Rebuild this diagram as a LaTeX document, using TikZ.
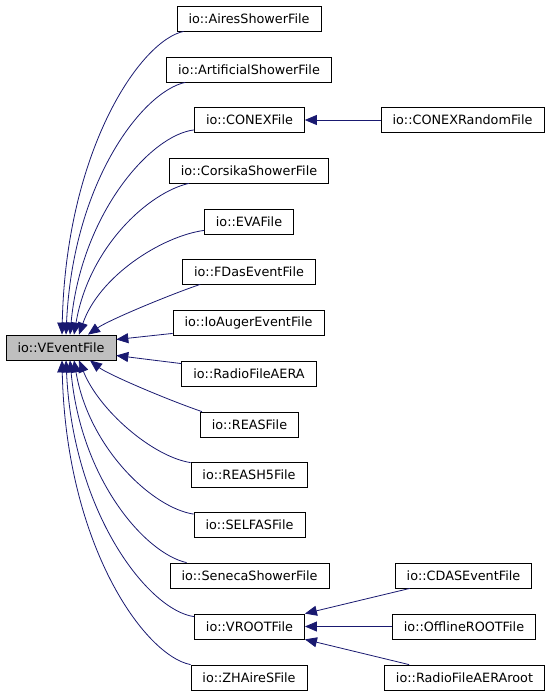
\documentclass[tikz,border=0pt]{standalone}
\usepackage{fontspec}
\setmainfont{DejaVu Sans}
\usetikzlibrary{arrows.meta}
\definecolor{doxblue}{HTML}{191970}
\begin{document}
\begin{tikzpicture}[x=1pt,y=-1pt,
  every node/.style={font=\fontsize{12.8}{14}\selectfont},
  cls/.style={draw,rectangle,line width=0.8pt,inner xsep=11.5pt,inner ysep=0pt,minimum height=25pt,fill=white},
  base/.style={cls,fill=black!25},
  inh/.style={draw=doxblue,line width=0.8pt,<-,>={Triangle[length=12pt,width=10pt]}}]
\useasboundingbox (0,0) rectangle (552,696);
\node[base] (vevent) at (61,347.5) {io::VEventFile};
\node[cls] (aires) at (249,18.5) {io::AiresShowerFile};
\node[cls] (artif) at (249,69.5) {io::ArtificialShowerFile};
\node[cls] (conex) at (249.5,120) {io::CONEXFile};
\node[cls] (corsika) at (249,170.5) {io::CorsikaShowerFile};
\node[cls] (eva) at (249,221.5) {io::EVAFile};
\node[cls] (fdas) at (249,271.5) {io::FDasEventFile};
\node[cls] (ioauger) at (248.5,322.5) {io::IoAugerEventFile};
\node[cls] (radioaera) at (249,373.5) {io::RadioFileAERA};
\node[cls] (reas) at (249.5,424.5) {io::REASFile};
\node[cls] (reash5) at (249,474.5) {io::REASH5File};
\node[cls] (selfas) at (249.5,525) {io::SELFASFile};
\node[cls] (seneca) at (249.5,575.5) {io::SenecaShowerFile};
\node[cls] (vroot) at (249.5,626.5) {io::VROOTFile};
\node[cls] (zhaires) at (249,677.5) {io::ZHAireSFile};
\node[cls] (conexrnd) at (462.5,120) {io::CONEXRandomFile};
\node[cls] (cdas) at (463.5,575.5) {io::CDASEventFile};
\node[cls] (offline) at (464,626.5) {io::OfflineROOTFile};
\node[cls] (aeraroot) at (464.5,677.5) {io::RadioFileAERAroot};
% upper branch
\draw[inh] ([xshift=1pt]vevent.north) .. controls +(4,-185) and +(-43,9) .. ([xshift=7pt]aires.south west);
\draw[inh] ([xshift=5pt]vevent.north) .. controls +(7,-154) and +(-42,9) .. ([xshift=19pt]artif.south west);
\draw[inh] ([xshift=9pt]vevent.north) .. controls +(11,-120) and +(-44,5) .. ([yshift=3pt]conex.south west);
\draw[inh] ([xshift=13pt]vevent.north) .. controls +(15,-88) and +(-40,9) .. ([xshift=20pt]corsika.south west);
\draw[inh] ([xshift=18pt]vevent.north) .. controls +(20,-58) and +(-43,6) .. ([yshift=4pt]eva.south west);
\draw[inh] ([xshift=27pt]vevent.north) .. controls +(20,-14) and +(-35,12) .. ([xshift=18pt]fdas.south west);
\draw[inh] ([yshift=8pt]vevent.east) -- ([yshift=2pt]ioauger.south west);
\draw[inh] ([yshift=-8pt]vevent.east) -- ([yshift=-3pt]radioaera.north west);
% lower branch
\draw[inh] ([xshift=29pt]vevent.south) .. controls +(18,14) and +(-35,-12) .. ([xshift=2pt]reas.north west);
\draw[inh] ([xshift=18pt]vevent.south) .. controls +(20,50) and +(-38,-6) .. ([yshift=-1pt]reash5.north west);
\draw[inh] ([xshift=13pt]vevent.south) .. controls +(15,88) and +(-41,-6) .. ([yshift=-2pt]selfas.north west);
\draw[inh] ([xshift=9pt]vevent.south) .. controls +(11,120) and +(-41,-9) .. ([xshift=17pt]seneca.north west);
\draw[inh] ([xshift=5pt]vevent.south) .. controls +(7,154) and +(-45,-6) .. ([yshift=-3pt]vroot.north west);
\draw[inh] ([xshift=1pt]vevent.south) .. controls +(4,185) and +(-46,-9) .. (zhaires.north west);
% second level
\draw[inh] (conex) -- (conexrnd);
\draw[inh] (vroot.north east) -- ([xshift=15pt]cdas.south west);
\draw[inh] (vroot) -- (offline);
\draw[inh] (vroot.south east) -- ([xshift=25pt]aeraroot.north west);
\end{tikzpicture}
\end{document}
